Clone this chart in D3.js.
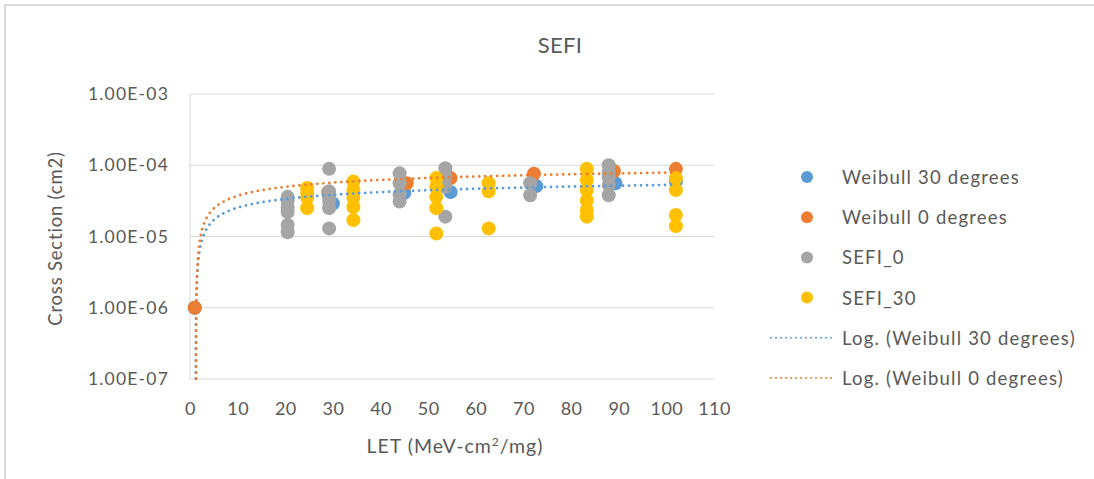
<!doctype html>
<html>

<head>
	<meta charset="utf-8">
	<title>SEFI</title>
	<script src="https://d3js.org/d3.v7.min.js"></script>
	<style>
		body { margin: 0; background: #fff; }
		text { font-family: Lato, "Open Sans", sans-serif; fill: #595959; }
	</style>
</head>

<body>
	<div id="chart"></div>
	<script>
		// Weibull fits (LET, cross section)
		const weibull30Let = [1, 30, 45, 54.7, 72.7, 89.3, 102];
		const weibull30Val = [1e-6, 2.9e-5, 4.1e-5, 4.2e-5, 5.1e-5, 5.6e-5, 5.9e-5];
		const weibull0Let = [1, 29, 45.5, 54.7, 72.2, 89, 102];
		const weibull0Val = [1e-6, 4.2e-5, 5.6e-5, 6.6e-5, 7.6e-5, 8.3e-5, 8.9e-5];

		// measured SEFI points
		const sefi0Let = [20.5, 20.5, 20.5, 20.5, 20.5, 20.5,
			29.2, 29.2, 29.2, 29.2, 29.2, 29.2,
			44, 44, 44, 44,
			53.6, 53.6, 53.6, 53.6,
			71.4, 71.4,
			87.9, 87.9, 87.9, 87.9, 87.9];
		const sefi0Val = [3.6e-5, 3.2e-5, 2.6e-5, 2.2e-5, 1.45e-5, 1.15e-5,
			8.9e-5, 4.3e-5, 3.6e-5, 3.1e-5, 2.5e-5, 1.3e-5,
			7.7e-5, 5.6e-5, 3.9e-5, 3.1e-5,
			9.1e-5, 6.9e-5, 5.0e-5, 1.9e-5,
			5.6e-5, 3.8e-5,
			1.0e-4, 8.0e-5, 6.8e-5, 5.3e-5, 3.8e-5];
		const sefi30Let = [24.6, 24.6, 24.6, 24.6,
			34.3, 34.3, 34.3, 34.3, 34.3,
			51.7, 51.7, 51.7, 51.7, 51.7,
			62.7, 62.7, 62.7,
			83.3, 83.3, 83.3, 83.3, 83.3, 83.3,
			102, 102, 102, 102];
		const sefi30Val = [4.8e-5, 4.1e-5, 3.5e-5, 2.5e-5,
			5.9e-5, 4.5e-5, 3.5e-5, 2.6e-5, 1.7e-5,
			6.6e-5, 5.0e-5, 3.6e-5, 2.5e-5, 1.1e-5,
			5.6e-5, 4.3e-5, 1.3e-5,
			8.9e-5, 6.2e-5, 4.5e-5, 3.2e-5, 2.35e-5, 1.9e-5,
			6.6e-5, 4.5e-5, 2.0e-5, 1.4e-5];

		const xTicks = [0, 10, 20, 30, 40, 50, 60, 70, 80, 90, 100, 110];
		const yTicks = [1e-7, 1e-6, 1e-5, 1e-4, 1e-3];

		const series = [
			{ name: 'Weibull 30 degrees', color: '#5B9BD5', xs: weibull30Let, ys: weibull30Val },
			{ name: 'Weibull 0 degrees', color: '#ED7D31', xs: weibull0Let, ys: weibull0Val },
			{ name: 'SEFI_0', color: '#A5A5A5', xs: sefi0Let, ys: sefi0Val },
			{ name: 'SEFI_30', color: '#FFC000', xs: sefi30Let, ys: sefi30Val }
		];

		const W = 1094, H = 479;
		const margin = { top: 94, left: 190 };
		const plotW = 524, plotH = 285;

		const svg = d3.select('#chart').append('svg')
			.attr('width', W)
			.attr('height', H);

		// chart frame (only top and left edges are visible in the crop)
		svg.append('path')
			.attr('d', `M5,${H} V5 H${W}`)
			.attr('fill', 'none')
			.attr('stroke', '#D9D9D9')
			.attr('stroke-width', 2);

		svg.append('text')
			.attr('x', 560).attr('y', 53)
			.attr('text-anchor', 'middle')
			.attr('font-size', '22px')
			.attr('letter-spacing', '0.3px')
			.text('SEFI');

		const x = d3.scaleLinear().domain([0, 110]).range([0, plotW]);
		const y = d3.scaleLog().domain([1e-7, 1e-3]).range([plotH, 0]);

		const g = svg.append('g')
			.attr('transform', `translate(${margin.left},${margin.top})`);

		g.append('clipPath').attr('id', 'clip')
			.append('rect').attr('width', plotW + 20).attr('height', plotH + 1).attr('x', -10);

		// horizontal gridlines
		g.selectAll('.grid').data(yTicks).enter().append('line')
			.attr('x1', 0).attr('x2', plotW)
			.attr('y1', d => y(d)).attr('y2', d => y(d))
			.attr('stroke', '#D9D9D9').attr('stroke-width', 1);
		g.append('line')
			.attr('x1', 0).attr('x2', 0).attr('y1', 0).attr('y2', plotH)
			.attr('stroke', '#D9D9D9');

		// axes (labels only, no tick marks)
		const yAxis = g.append('g')
			.call(d3.axisLeft(y).tickValues(yTicks).tickSize(0).tickPadding(21)
				.tickFormat(d => d.toExponential(2).replace('e-', 'E-0').toUpperCase()));
		yAxis.select('.domain').remove();
		yAxis.selectAll('text')
			.attr('font-size', '17.5px').attr('font-family', null)
			.attr('letter-spacing', '1.2px');

		const xAxis = g.append('g')
			.attr('transform', `translate(0,${plotH})`)
			.call(d3.axisBottom(x).tickValues(xTicks).tickSize(0).tickPadding(23));
		xAxis.select('.domain').remove();
		xAxis.selectAll('text')
			.attr('font-size', '18px').attr('font-family', null)
			.attr('letter-spacing', '0.4px');

		svg.append('text')
			.attr('transform', `translate(62,${margin.top + plotH / 2 + 2}) rotate(-90)`)
			.attr('text-anchor', 'middle')
			.attr('font-size', '18.5px')
			.attr('letter-spacing', '0.8px')
			.text('Cross Section (cm2)');

		const xTitle = svg.append('text')
			.attr('x', 455).attr('y', 453)
			.attr('text-anchor', 'middle')
			.attr('font-size', '19.5px')
			.attr('letter-spacing', '1px');
		xTitle.append('tspan').text('LET (MeV-cm');
		xTitle.append('tspan').attr('dy', -7).attr('font-size', '12px').text('2');
		xTitle.append('tspan').attr('dy', 7).text('/mg)');

		// markers
		series.forEach(s => {
			g.append('g').selectAll('circle')
				.data(s.xs.map((v, i) => [v, s.ys[i]]))
				.enter().append('circle')
				.attr('cx', d => x(d[0]))
				.attr('cy', d => y(d[1]))
				.attr('r', 7)
				.attr('fill', s.color);
		});

		// logarithmic trendlines y = a ln(x) + b fitted to the Weibull series
		function logFit(xs, ys) {
			const lx = xs.map(Math.log);
			const mx = d3.mean(lx), my = d3.mean(ys);
			const a = d3.sum(lx, (v, i) => (v - mx) * (ys[i] - my)) / d3.sum(lx, v => (v - mx) * (v - mx));
			return { a: a, b: my - a * mx };
		}

		const trendLine = d3.line()
			.x(d => x(d[0]))
			.y(d => y(d[1]));

		[series[0], series[1]].forEach(s => {
			const f = logFit(s.xs, s.ys);
			const lo = d3.min(s.xs), hi = d3.max(s.xs);
			const pts = d3.range(0, 401).map(i => {
				const xv = lo * Math.pow(hi / lo, i / 400);
				return [xv, Math.max(f.a * Math.log(xv) + f.b, 1e-9)];
			});
			g.append('path')
				.datum(pts)
				.attr('clip-path', 'url(#clip)')
				.attr('fill', 'none')
				.attr('stroke', s.color)
				.attr('stroke-width', 2.8)
				.attr('stroke-linecap', 'round')
				.attr('stroke-dasharray', '0 6')
				.attr('d', trendLine);
		});

		// legend
		const legendRows = series.map(s => ({ name: s.name, color: s.color, type: 'dot' }))
			.concat([
				{ name: 'Log. (Weibull 30 degrees)', color: '#5B9BD5', type: 'line' },
				{ name: 'Log. (Weibull 0 degrees)', color: '#ED7D31', type: 'line' }
			]);
		const legend = svg.append('g');
		legendRows.forEach((r, i) => {
			const ly = 177 + i * 40.2;
			if (r.type === 'dot') {
				legend.append('circle').attr('cx', 807).attr('cy', ly).attr('r', 6).attr('fill', r.color);
			} else {
				legend.append('line')
					.attr('x1', 771).attr('x2', 832).attr('y1', ly).attr('y2', ly)
					.attr('stroke', r.color).attr('stroke-width', 2)
					.attr('stroke-linecap', 'round').attr('stroke-dasharray', '0 5');
			}
			legend.append('text')
				.attr('x', 842).attr('y', ly + 7)
				.attr('font-size', '18.5px')
				.attr('letter-spacing', '1.2px')
				.text(r.name);
		});
	</script>
</body>

</html>
